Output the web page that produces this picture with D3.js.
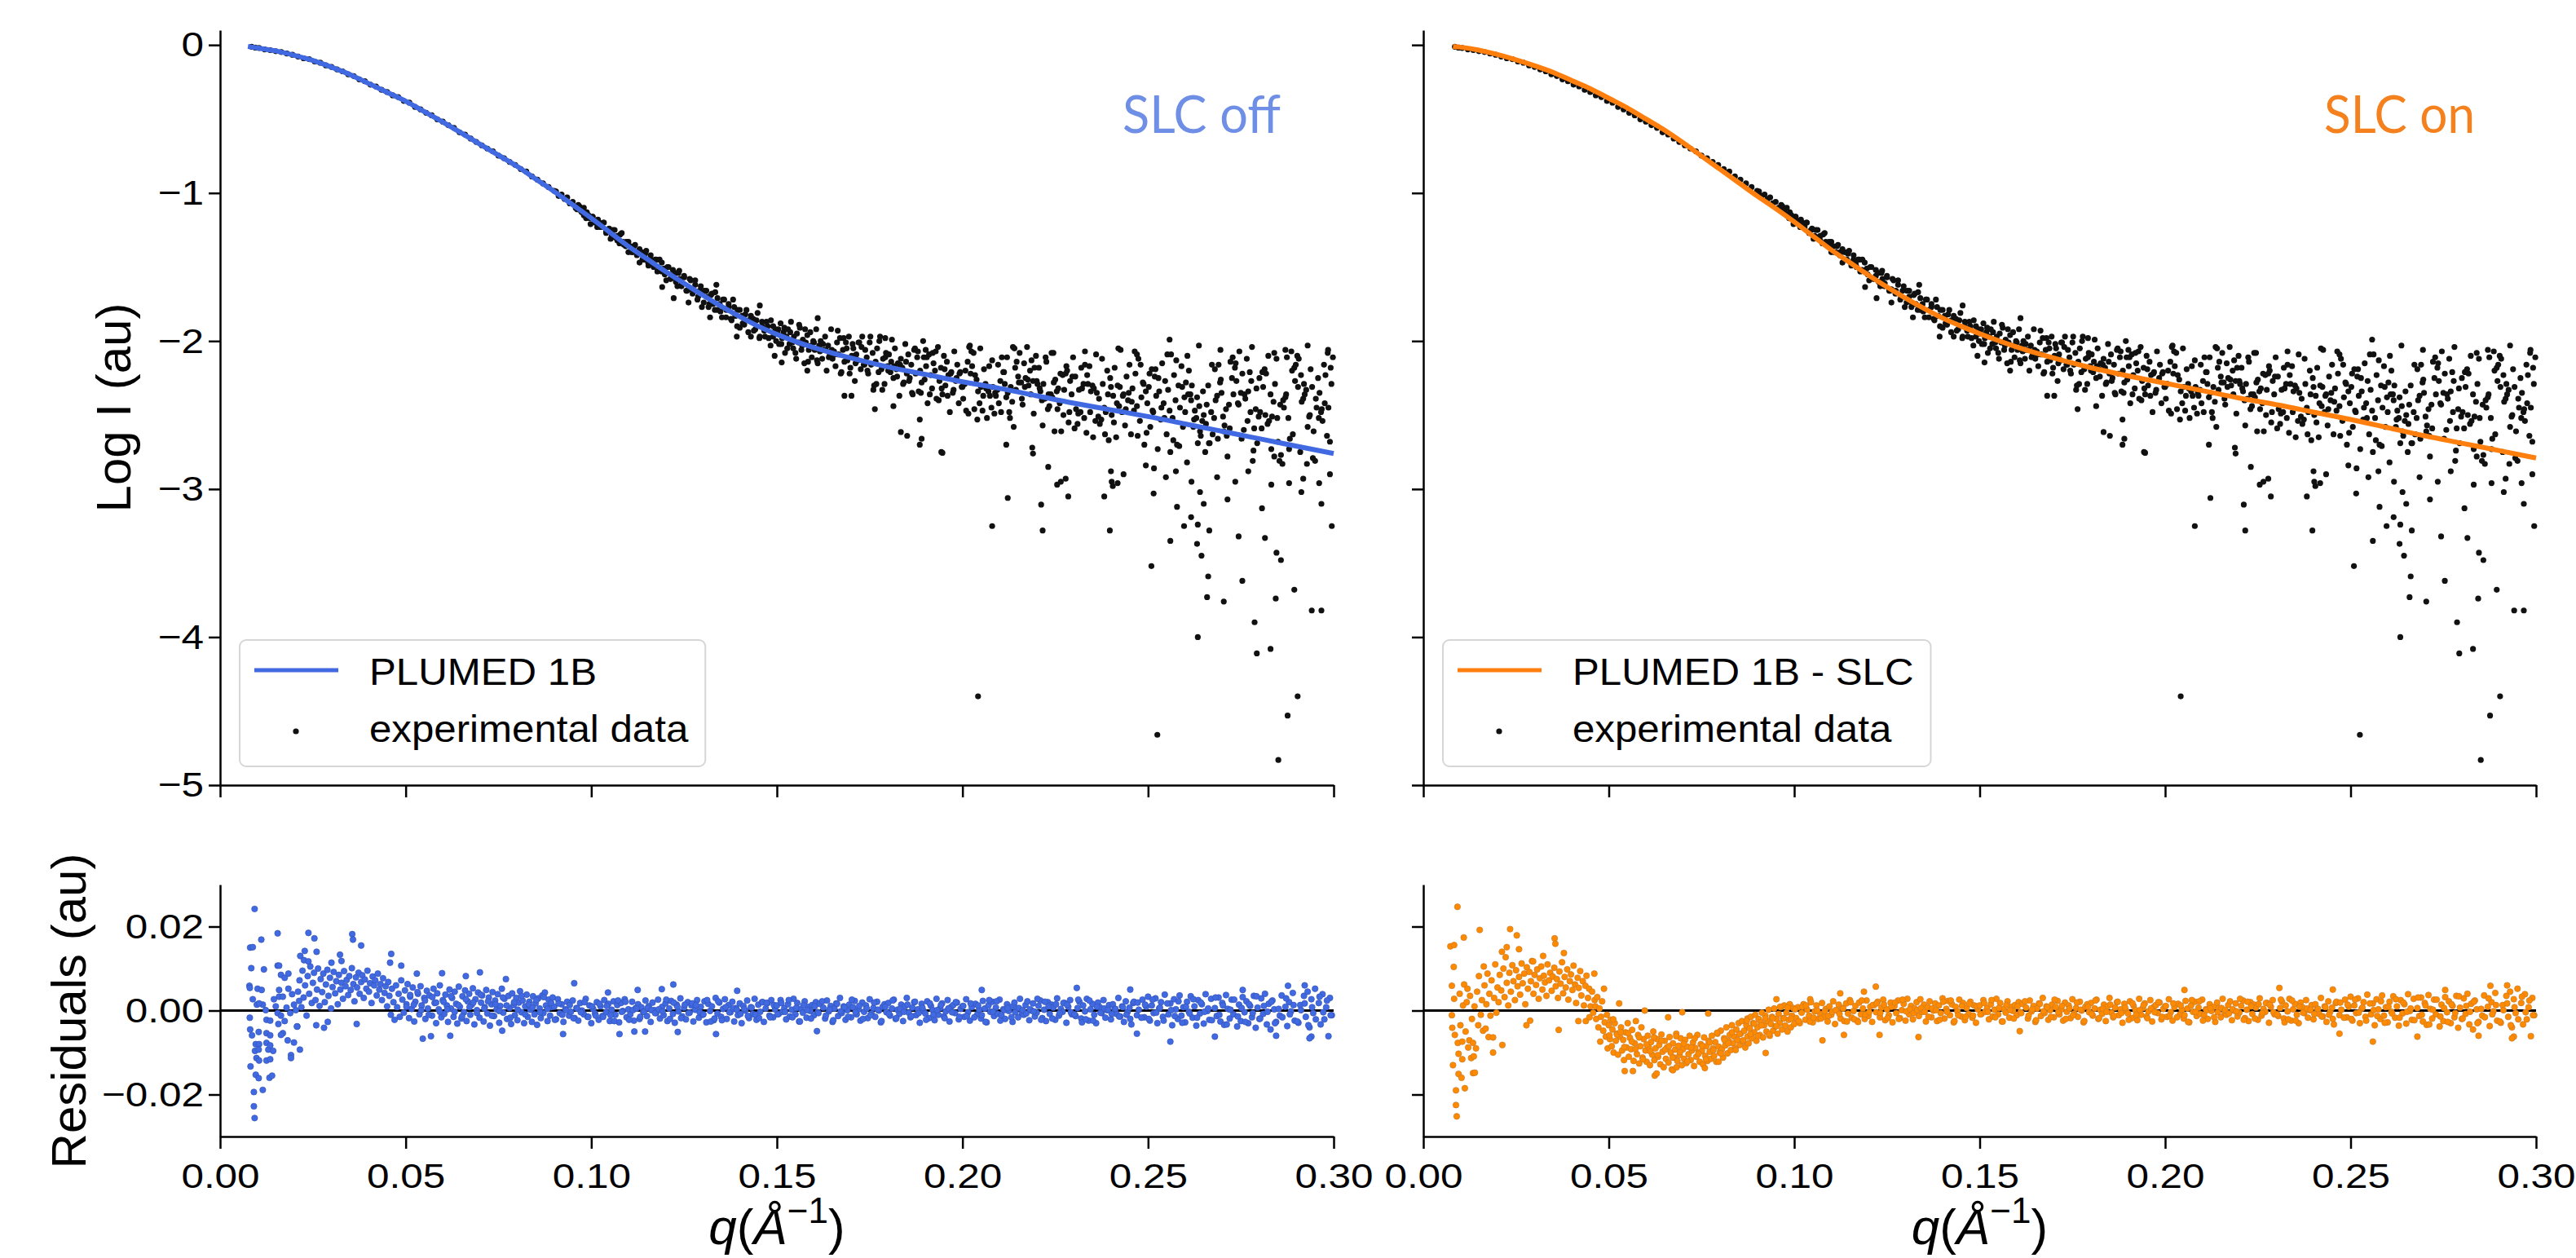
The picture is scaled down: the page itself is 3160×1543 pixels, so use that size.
<!DOCTYPE html>
<html>
<head>
<meta charset="utf-8">
<script src="https://cdn.jsdelivr.net/npm/d3@7"></script>
<style>
body { margin: 0; background: #fff; }
</style>
</head>
<body>
<div id="chart"></div>
<script>
// tick values
const qTicks = [0, 0.05, 0.10, 0.15, 0.20, 0.25, 0.30];
const logTicks = [0, -1, -2, -3, -4, -5];
const resTicks = [-0.02, 0, 0.02];

// fitted curves [q, log I]
const fitOff = [[.0075,-.01],[.01,-.02],[.015,-.04],[.02,-.07],[.025,-.105],[.03,-.15],[.035,-.2],[.04,-.26],[.045,-.32],[.05,-.38],[.055,-.45],[.06,-.52],[.065,-.595],[.07,-.67],[.075,-.745],[.08,-.82],[.085,-.905],[.09,-.99],[.095,-1.08],[.10,-1.17],[.105,-1.265],[.11,-1.36],[.115,-1.445],[.12,-1.53],[.125,-1.61],[.13,-1.69],[.135,-1.765],[.14,-1.835],[.145,-1.9],[.15,-1.955],[.16,-2.045],[.17,-2.115],[.18,-2.175],[.19,-2.225],[.20,-2.275],[.21,-2.32],[.22,-2.37],[.23,-2.42],[.24,-2.465],[.25,-2.51],[.26,-2.56],[.27,-2.61],[.28,-2.66],[.29,-2.71],[.30,-2.76]];
const fitOn = [[.008,-.01],[.01,-.015],[.015,-.035],[.02,-.065],[.025,-.1],[.03,-.14],[.035,-.185],[.04,-.24],[.045,-.295],[.05,-.36],[.055,-.425],[.06,-.5],[.065,-.575],[.07,-.66],[.075,-.75],[.08,-.84],[.085,-.93],[.09,-1.02],[.095,-1.105],[.10,-1.195],[.105,-1.29],[.11,-1.385],[.115,-1.47],[.12,-1.555],[.125,-1.635],[.13,-1.71],[.135,-1.78],[.14,-1.845],[.145,-1.9],[.15,-1.95],[.16,-2.04],[.17,-2.115],[.18,-2.18],[.19,-2.235],[.20,-2.285],[.21,-2.335],[.22,-2.385],[.23,-2.43],[.24,-2.48],[.25,-2.53],[.26,-2.585],[.27,-2.64],[.28,-2.69],[.29,-2.74],[.30,-2.79]];

// experimental data [q, log I]
const expNear = [[.0085,-.012],[.0095,-.018],[.0105,-.02],[.012,-.03],[.0135,-.035],[.015,-.042],[.0165,-.048],[.018,-.058],[.0195,-.066],[.021,-.078],[.0225,-.09],[.024,-.096],[.0255,-.112],[.027,-.12],[.0285,-.138],[.030,-.148],[.0315,-.165],[.033,-.178],[.0345,-.198],[.036,-.21],[.0375,-.232],[.039,-.245],[.0405,-.268],[.042,-.28],[.0435,-.303],[.045,-.318],[.0465,-.34],[.048,-.352],[.0495,-.378],[.051,-.39],[.0525,-.418],[.054,-.435],[.0555,-.458],[.057,-.475],[.0585,-.502],[.060,-.518],[.0615,-.542],[.063,-.56],[.0645,-.59],[.066,-.605],[.0675,-.632],[.069,-.655],[.0705,-.678],[.072,-.7],[.0735,-.718],[.075,-.748],[.0765,-.765],[.078,-.79],[.0795,-.81],[.081,-.838],[.0825,-.855],[.084,-.888],[.0855,-.91],[.087,-.935],[.0885,-.96],[.090,-.985],
[.0905,-.99],[.0912,-1.02],[.092,-1.01],[.0928,-1.04],[.0935,-1.03],[.0942,-1.07],[.095,-1.06],[.0958,-1.1],[.0965,-1.08],[.0972,-1.12],[.098,-1.15],[.0988,-1.13],[.0995,-1.17],[.1003,-1.16],[.101,-1.2],[.1018,-1.18],[.1025,-1.23],[.1033,-1.2],[.104,-1.26],[.1048,-1.24],[.1055,-1.29],[.1063,-1.25],[.107,-1.32],[.1078,-1.28],[.1085,-1.33],[.1093,-1.36],[.11,-1.33],[.1108,-1.4],[.1115,-1.36],[.1123,-1.42],[.113,-1.38],[.1138,-1.45],[.1145,-1.41],[.1153,-1.47],[.116,-1.42],[.1168,-1.5],[.1175,-1.45],[.1183,-1.52],[.119,-1.47],[.1191,-1.635],[.1198,-1.55],[.1205,-1.5],[.1213,-1.58],[.122,-1.52],[.1222,-1.71],[.1228,-1.6],[.1235,-1.54],[.1237,-1.525],[.1243,-1.63],[.125,-1.57],[.1258,-1.66],[.1262,-1.74],[.1265,-1.58],[.1273,-1.68],[.128,-1.62],[.1288,-1.7],[.1295,-1.63],[.1303,-1.74],[.131,-1.66],[.1318,-1.75],[.132,-1.84],[.1325,-1.68],[.1333,-1.79],[.1337,-1.62],[.134,-1.71],[.1348,-1.8],[.1355,-1.72],[.1363,-1.84],[.137,-1.75],[.1378,-1.86],[.1385,-1.77],[.1392,-1.97],[.1393,-1.9],[.14,-1.79],[.1408,-1.88],[.1415,-1.82],[.1423,-1.94],[.143,-1.83],[.1438,-1.93],[.1445,-1.86],[.1454,-1.76],[.1453,-1.98],[.146,-1.87],[.1468,-1.97],[.1475,-1.9],[.1483,-2.03],[.149,-1.9],[.1494,-2.1],[.1498,-2.0]];

const expTail = [
[.1502,-1.95],[.1506,-2.02],[.1510,-1.88],[.1514,-1.98],[.1518,-1.94],[.1522,-2.08],[.1526,-1.97],[.1530,-1.92],[.1534,-2.02],[.1538,-1.87],[.1542,-2.01],[.1546,-1.97],[.1550,-2.08],[.1554,-1.95],[.1558,-2.01],[.1562,-1.91],[.1566,-2.06],[.1570,-1.99],[.1574,-2.15],[.1578,-2.01],[.1582,-1.96],[.1586,-2.06],[.1590,-1.94],[.1594,-2.11],[.1598,-2.00],
[.1602,-2.06],[.1606,-1.92],[.1610,-2.15],[.1614,-2.03],[.1618,-2.00],[.1622,-2.12],[.1626,-2.06],[.1630,-1.97],[.1634,-2.20],[.1638,-2.03],[.1642,-2.10],[.1646,-1.92],[.1650,-2.12],[.1654,-2.07],[.1658,-2.17],[.1662,-2.01],[.1666,-2.09],[.1670,-1.98],[.1674,-2.21],[.1678,-2.06],[.1682,-2.14],[.1686,-2.01],[.1690,-2.13],[.1694,-1.97],[.1698,-2.18],
[.1702,-2.10],[.1706,-2.05],[.1710,-2.27],[.1714,-2.09],[.1718,-2.13],[.1722,-2.01],[.1726,-2.19],[.1730,-1.97],[.1734,-2.16],[.1738,-2.06],[.1742,-2.11],[.1746,-2.22],[.1750,-2.01],[.1754,-2.16],[.1758,-2.08],[.1762,-2.30],[.1766,-2.14],[.1770,-2.05],[.1774,-2.21],[.1778,-1.97],[.1782,-2.19],[.1786,-2.12],[.1790,-2.29],[.1794,-2.08],[.1798,-2.17],
[.1802,-2.09],[.1806,-2.21],[.1810,-1.99],[.1814,-2.25],[.1818,-2.05],[.1822,-2.19],[.1826,-2.15],[.1830,-2.37],[.1834,-2.12],[.1838,-2.18],[.1842,-2.28],[.1846,-2.02],[.1850,-2.22],[.1854,-2.09],[.1858,-2.25],[.1862,-2.16],[.1866,-2.36],[.1870,-2.06],[.1874,-2.22],[.1878,-2.11],[.1882,-2.34],[.1886,-2.20],[.1890,-2.28],[.1894,-2.00],[.1898,-2.26],
[.1902,-2.17],[.1906,-2.42],[.1910,-2.09],[.1914,-2.23],[.1918,-2.32],[.1922,-2.15],[.1926,-2.20],[.1930,-2.39],[.1934,-2.04],[.1938,-2.27],[.1942,-2.18],[.1946,-2.36],[.1950,-2.10],[.1954,-2.30],[.1958,-2.14],[.1962,-2.23],[.1966,-2.48],[.1970,-2.21],[.1974,-2.35],[.1978,-2.07],[.1982,-2.27],[.1986,-2.16],[.1990,-2.42],[.1994,-2.21],[.1998,-2.31],
[.2002,-2.39],[.2006,-2.29],[.2010,-2.47],[.2014,-2.14],[.2018,-2.04],[.2022,-2.22],[.2026,-2.17],[.2030,-2.08],[.2034,-2.23],[.2038,-2.26],[.2042,-2.34],[.2046,-2.42],[.2050,-2.31],[.2054,-2.47],[.2058,-2.19],[.2062,-2.29],[.2066,-2.52],[.2070,-2.34],[.2074,-2.37],[.2078,-2.45],[.2082,-2.31],[.2086,-2.49],[.2090,-2.37],[.2094,-2.33],[.2098,-2.42],
[.2102,-2.27],[.2106,-2.11],[.2110,-2.21],[.2114,-2.29],[.2118,-2.38],[.2122,-2.35],[.2126,-2.48],[.2130,-2.31],[.2134,-2.41],[.2138,-2.58],[.2142,-2.18],[.2146,-2.14],[.2150,-2.24],[.2154,-2.08],[.2158,-2.28],[.2162,-2.43],[.2166,-2.15],[.2170,-2.25],[.2174,-2.04],[.2178,-2.30],[.2182,-2.20],[.2186,-2.13],[.2190,-2.27],[.2194,-2.18],[.2198,-2.10],
[.2202,-2.29],[.2206,-2.18],[.2210,-2.34],[.2214,-2.40],[.2218,-2.29],[.2222,-2.39],[.2226,-2.14],[.2230,-2.46],[.2234,-2.44],[.2238,-2.36],[.2242,-2.38],[.2246,-2.28],[.2250,-2.26],[.2254,-2.34],[.2258,-2.32],[.2262,-2.42],[.2266,-2.61],[.2270,-2.23],[.2274,-2.33],[.2278,-2.22],[.2282,-2.20],[.2286,-2.55],[.2290,-2.27],[.2294,-2.36],[.2298,-2.11],
[.2302,-2.59],[.2306,-2.46],[.2310,-2.56],[.2314,-2.33],[.2318,-2.48],[.2322,-2.32],[.2326,-2.29],[.2330,-2.16],[.2334,-2.62],[.2338,-2.29],[.2342,-2.17],[.2346,-2.34],[.2350,-2.30],[.2354,-2.32],[.2358,-2.54],[.2362,-2.35],[.2366,-2.51],[.2370,-2.56],[.2374,-2.53],[.2378,-2.29],[.2382,-2.45],[.2386,-2.48],[.2390,-2.20],[.2394,-2.67],[.2398,-2.25],
[.2402,-2.50],[.2406,-2.37],[.2410,-2.18],[.2414,-2.65],[.2418,-2.30],[.2422,-2.44],[.2426,-2.06],[.2430,-2.48],[.2434,-2.36],[.2438,-2.57],[.2442,-2.24],[.2446,-2.40],[.2450,-2.16],[.2454,-2.63],[.2458,-2.32],[.2462,-2.47],[.2466,-2.22],[.2470,-2.44],[.2474,-2.12],[.2478,-2.54],[.2482,-2.38],[.2486,-2.28],[.2490,-2.70],[.2494,-2.34],[.2498,-2.42],
[.2502,-2.31],[.2506,-2.58],[.2510,-2.19],[.2514,-2.48],[.2518,-2.24],[.2522,-2.37],[.2526,-2.73],[.2530,-2.34],[.2534,-2.53],[.2538,-2.15],[.2542,-2.42],[.2546,-2.27],[.2550,-2.63],[.2554,-2.33],[.2558,-2.47],[.2562,-2.09],[.2566,-2.52],[.2570,-2.23],[.2574,-2.40],[.2578,-2.70],[.2582,-2.30],[.2586,-2.45],[.2590,-2.17],[.2594,-2.58],[.2598,-2.38],
[.2602,-2.28],[.2606,-2.10],[.2610,-2.20],[.2614,-2.36],[.2618,-2.30],[.2622,-2.58],[.2626,-2.47],[.2630,-2.52],[.2634,-2.69],[.2638,-2.44],[.2642,-2.64],[.2646,-2.54],[.2650,-2.50],[.2654,-2.75],[.2658,-2.43],[.2662,-2.30],[.2666,-2.69],[.2670,-2.48],[.2674,-2.63],[.2678,-2.52],[.2682,-2.40],[.2686,-2.37],[.2690,-2.16],[.2694,-2.28],[.2698,-2.35],
[.2702,-2.51],[.2706,-2.57],[.2710,-2.46],[.2714,-2.78],[.2718,-2.43],[.2722,-2.14],[.2726,-2.25],[.2730,-2.36],[.2734,-2.18],[.2738,-2.27],[.2742,-2.42],[.2746,-2.07],[.2750,-2.35],[.2754,-2.22],[.2758,-2.60],[.2762,-2.39],[.2766,-2.12],[.2770,-2.34],[.2774,-2.21],[.2778,-2.27],[.2782,-2.81],[.2786,-2.59],[.2790,-2.46],[.2794,-2.69],[.2798,-2.51],
[.2802,-2.48],[.2806,-2.59],[.2810,-2.31],[.2814,-2.19],[.2818,-2.22],[.2822,-2.56],[.2826,-2.54],[.2830,-2.36],[.2834,-2.51],[.2838,-2.41],[.2842,-2.29],[.2846,-2.12],[.2850,-2.68],[.2854,-2.81],[.2858,-2.77],[.2862,-2.83],[.2866,-2.45],[.2870,-2.38],[.2874,-2.11],[.2878,-2.52],[.2882,-2.66],[.2886,-2.07],[.2890,-2.63],[.2894,-2.18],[.2898,-2.16],
[.2902,-2.10],[.2906,-2.12],[.2910,-2.75],[.2914,-2.41],[.2918,-2.39],[.2922,-2.36],[.2926,-2.33],[.2930,-2.58],[.2934,-2.51],[.2938,-2.19],[.2942,-2.31],[.2946,-2.61],[.2950,-2.81],[.2954,-2.45],[.2958,-2.25],[.2962,-2.35],[.2966,-2.48],[.2970,-2.54],[.2974,-2.16],[.2978,-2.23],[.2982,-2.64],[.2986,-2.45],[.2990,-2.68],[.2994,-2.29],[.2998,-2.11]];

// second pass over the same range (the cloud is denser than one row)
const expExtra = [[.0962,-1.11],[.0968,-1.09],[.0974,-1.13],[.098,-1.10],[.0986,-1.17],[.0992,-1.15],[.0998,-1.21],[.1004,-1.16],[.101,-1.19],[.1016,-1.23],[.1022,-1.20],[.1028,-1.23],[.1034,-1.20],[.104,-1.27],[.1046,-1.25],[.1052,-1.31],[.1058,-1.25],[.1064,-1.30],[.107,-1.29],[.1076,-1.34],[.1082,-1.27],[.1088,-1.35],[.1094,-1.33],[.11,-1.40],[.1106,-1.36],[.1112,-1.40],[.1118,-1.35],[.1124,-1.40],[.113,-1.47],[.1136,-1.40],[.1142,-1.45],[.1148,-1.39],[.1154,-1.49],[.116,-1.45],[.1166,-1.48],[.1172,-1.45],[.1178,-1.53],[.1184,-1.45],[.119,-1.53],[.1196,-1.51],[.1202,-1.59],[.1208,-1.50],[.1214,-1.58],[.122,-1.56],[.1226,-1.54],[.1232,-1.63],[.1238,-1.58],[.1244,-1.61],[.125,-1.56],[.1256,-1.66],[.1262,-1.65],[.1268,-1.59],[.1274,-1.66],[.128,-1.59],[.1286,-1.72],[.1292,-1.66],[.1298,-1.77],[.1304,-1.66],[.131,-1.70],[.1316,-1.77],[.1322,-1.69],[.1328,-1.75],[.1334,-1.67],[.134,-1.79],[.1346,-1.75],[.1352,-1.84],[.1358,-1.72],[.1364,-1.79],[.137,-1.77],[.1376,-1.85],[.1382,-1.72],[.1388,-1.83],[.1394,-1.79],[.14,-1.91],[.1406,-1.83],[.1412,-1.89],[.1418,-1.79],[.1424,-1.86],[.143,-1.97],[.1436,-1.85],[.1442,-1.92],[.1448,-1.81],[.1454,-1.97],[.146,-1.90],[.1466,-1.93],[.1472,-1.87],[.1478,-1.98],[.1484,-1.86],[.149,-1.97],[.1496,-1.92],
[.1504,-1.92],[.1512,-2.02],[.1520,-1.91],[.1528,-2.05],[.1536,-1.94],[.1544,-2.05],[.1552,-2.12],[.1560,-1.89],[.1568,-2.03],[.1576,-1.92],[.1584,-2.14],[.1592,-2.03],[.1600,-2.01],[.1608,-2.13],[.1616,-2.07],[.1624,-2.02],[.1632,-2.06],[.1640,-2.11],[.1648,-2.06],[.1656,-2.09],[.1664,-1.93],[.1672,-2.22],[.1680,-1.98],[.1688,-2.05],[.1696,-2.22],[.1704,-2.02],[.1712,-2.15],[.1720,-2.01],[.1728,-2.04],[.1736,-2.16],[.1744,-2.20],[.1752,-1.97],[.1760,-2.33],[.1768,-2.29],[.1776,-2.00],[.1784,-2.33],[.1792,-2.11],[.1800,-2.20],[.1808,-2.14],[.1816,-2.17],[.1824,-2.24],[.1832,-2.16],[.1840,-2.29],[.1848,-2.14],[.1856,-2.27],[.1864,-2.35],[.1872,-2.05],[.1880,-2.07],[.1888,-2.35],[.1896,-2.11],
[.1904,-2.11],[.1912,-2.36],[.1920,-2.08],[.1928,-2.07],[.1936,-2.40],[.1944,-2.32],[.1952,-2.19],[.1960,-2.37],[.1968,-2.22],[.1976,-2.33],[.1984,-2.25],[.1992,-2.22],[.2000,-2.31],[.2008,-2.20],[.2016,-2.49],[.2024,-2.07],[.2032,-2.46],[.2040,-2.53],[.2048,-2.05],[.2056,-2.37],[.2064,-2.32],[.2072,-2.17],[.2080,-2.13],[.2088,-2.35],[.2096,-2.16],[.2104,-2.48],[.2112,-2.21],[.2120,-2.11],[.2128,-2.52],[.2136,-2.04],[.2144,-2.33],[.2152,-2.28],[.2160,-2.39],[.2168,-2.31],[.2176,-2.26],[.2184,-2.36],[.2192,-2.49],[.2200,-2.27],[.2208,-2.32],[.2216,-2.57],[.2224,-2.11],[.2232,-2.36],[.2240,-2.08],[.2248,-2.61],[.2256,-2.46],[.2264,-2.22],[.2272,-2.50],[.2280,-2.17],[.2288,-2.48],[.2296,-2.24],
[.2304,-2.24],[.2312,-2.49],[.2320,-2.18],[.2328,-2.52],[.2336,-2.23],[.2344,-2.48],[.2352,-2.65],[.2360,-2.09],[.2368,-2.39],[.2376,-2.12],[.2384,-2.63],[.2392,-2.36],[.2400,-2.31],[.2408,-2.55],[.2416,-2.42],[.2424,-2.31],[.2432,-2.37],[.2440,-2.46],[.2448,-2.35],[.2456,-2.41],[.2464,-2.07],[.2472,-2.64],[.2480,-2.16],[.2488,-2.29],[.2496,-2.62],[.2504,-2.22],[.2512,-2.47],[.2520,-2.19],[.2528,-2.25],[.2536,-2.45],[.2544,-2.52],[.2552,-2.09],[.2560,-2.75],[.2568,-2.67],[.2576,-2.13],[.2584,-2.71],[.2592,-2.31],[.2600,-2.48],[.2608,-2.36],[.2616,-2.40],[.2624,-2.53],[.2632,-2.38],[.2640,-2.61],[.2648,-2.34],[.2656,-2.56],[.2664,-2.69],[.2672,-2.16],[.2680,-2.19],[.2688,-2.66],[.2696,-2.26],
[.2704,-2.61],[.2712,-2.64],[.2720,-2.59],[.2728,-2.11],[.2736,-2.15],[.2744,-2.43],[.2752,-2.66],[.2760,-2.36],[.2768,-2.54],[.2776,-2.48],[.2784,-2.74],[.2792,-2.32],[.2800,-2.25],[.2808,-2.21],[.2816,-2.50],[.2824,-2.10],[.2832,-2.73],[.2840,-2.78],[.2848,-2.52],[.2856,-2.43],[.2864,-2.40],[.2872,-2.36],[.2880,-2.73],[.2888,-2.20],[.2896,-2.27],[.2904,-2.31],[.2912,-2.23],[.2920,-2.29],[.2928,-2.83],[.2936,-2.50],[.2944,-2.79],[.2952,-2.39],[.2960,-2.52],[.2968,-2.46],[.2976,-2.42],[.2984,-2.08],[.2992,-2.18]];

const expOutliers = [[.1513,-2.145],[.1582,-2.20],[.1610,-1.845],[.1682,-2.37],[.1701,-2.37],[.1764,-2.46],[.1792,-1.98],[.1814,-2.44],[.1834,-2.615],[.1851,-2.64],[.1885,-2.53],[.1885,-2.70],[.1890,-2.66],[.1901,-2.06],[.1943,-2.75],[.1946,-2.755],
[.2020,-2.03],[.2042,-4.40],[.2080,-3.25],[.2118,-2.70],[.2122,-3.06],[.2140,-2.05],[.2188,-2.72],[.2190,-2.76],[.2212,-3.105],[.2216,-3.28],[.2231,-2.85],[.2245,-2.08],[.2255,-2.97],[.2265,-2.95],[.2278,-2.93],[.2285,-3.05],[.2330,-2.07],[.2382,-3.05],[.2397,-3.28],[.2400,-2.88],[.2402,-2.95],[.2405,-2.98],[.2418,-2.96],[.2420,-2.05],[.2434,-2.90],[.2470,-2.09],[.2494,-2.84],[.2509,-3.52],[.2515,-3.03],[.2516,-2.86],[.2525,-4.66],[.2548,-2.92],[.2558,-1.99],[.2560,-3.35],[.2575,-2.88],[.2578,-3.12],[.2597,-3.25],[.2605,-2.82],[.2616,-3.19],[.2617,-2.95],[.2632,-3.37],[.2634,-3.24],[.2634,-4.00],[.2637,-2.03],[.2640,-3.02],[.2644,-3.45],[.2650,-3.10],[.2659,-3.73],[.2662,-3.59],[.2665,-3.28],[.2686,-2.92],[.2695,-2.06],[.2704,-3.76],[.2714,-3.07],[.2735,-2.95],[.2744,-3.32],[.2754,-3.62],[.2770,-2.88],[.2780,-2.04],[.2787,-3.90],[.2793,-4.11],[.2807,-3.13],[.2815,-3.33],[.2830,-4.08],[.2832,-2.97],[.2840,-2.08],[.2844,-3.74],[.2846,-3.43],[.2851,-4.83],[.2858,-3.48],[.2870,-2.06],[.2876,-4.53],[.2880,-2.96],[.2894,-3.68],[.2903,-4.40],[.2913,-3.02],[.2918,-2.93],[.2930,-2.03],[.2941,-3.82],[.2961,-2.96],[.2967,-3.82],[.2967,-3.10],[.2985,-2.06],[.2990,-2.90],[.2995,-3.25]];

// residuals, SLC off, q < 0.15
const resOffHead = [[.0079,.0059],[.0080,.0054],[.0081,.0150],[.0088,.0151],[.0084,.0101],[.0088,.0027],[.0080,-.0017],[.0081,-.0045],[.0086,-.0059],[.0082,-.0133],[.0093,.0242],[.0091,-.0194],[.0091,-.0228],[.0093,-.0256],[.0096,-.0080],[.0094,-.0096],[.0098,-.0113],[.0096,-.0153],[.0104,-.0161],[.0101,.0052],[.0099,.0014],[.0104,-.0051],[.0105,-.0080],[.0104,-.0093],[.0105,-.0119],[.0111,.0169],[.0112,.0049],[.0115,-.0189],[.0118,.0098],[.0125,-.0054],[.0125,-.0077],[.0130,-.0093],[.0125,-.0119],[.0133,-.0160],[.0140,-.0155],[.0135,-.0059],[.0135,-.0083],[.0143,-.0096],[.0135,-.0116],[.0125,-.0022],[.0135,-.0024],[.0123,.0001],[.0115,.0014],[.0105,.0017],[.0155,.0184],[.0155,.0107],[.0159,.0107],[.0150,.0010],[.0155,-.0006],[.0164,-.0012],[.0179,.0007],[.0189,-.0006],[.0174,-.0025],[.0157,-.0032],[.0169,-.0054],[.0164,-.0058],[.0182,-.0071],[.0199,-.0076],[.0191,-.0106],[.0191,-.0113],[.0215,-.0093],[.0208,-.0038],[.0164,.0085],[.0174,.0078],[.0184,.0088],[.0159,.0049],[.0159,.0033],[.0169,.0033],[.0145,.0027],[.0184,.0052],[.0194,.0039],[.0199,.0014],[.0204,.0001],[.0213,.0023],
[.0238,.0185],[.0254,.0172],[.0228,.0142],[.0260,.0140],[.0216,.0130],[.0226,.0120],[.0238,.0117],[.0300,.0114],[.0323,.0133],[.0327,.0118],[.0356,.0182],[.0358,.0169],[.0380,.0155],[.0461,.0135],[.0458,.0114],[.0488,.0107],[.0259,-.0035],[.0290,-.0027],[.0280,-.0041],[.0368,-.0032],[.0207,-.0038],
[.0210,.0045],[.0214,.0072],[.0219,.0008],[.0222,.0095],[.0225,.0031],[.0229,.0060],[.0233,-.0012],[.0236,.0082],[.0240,.0040],[.0243,.0105],[.0247,.0018],[.0250,.0066],[.0253,.0090],[.0257,.0025],[.0261,.0050],[.0264,.0100],[.0268,.0011],[.0271,.0075],[.0275,.0044],[.0278,.0088],[.0282,.0020],[.0285,.0062],[.0289,.0097],[.0292,.0035],[.0296,.0078],[.0299,.0005],[.0303,.0056],[.0306,.0092],[.0310,.0041],[.0313,.0070],[.0317,.0015],[.0320,.0085],[.0324,.0050],[.0327,.0066],[.0331,.0028],[.0334,.0094],[.0338,.0058],[.0341,.0073],[.0345,.0037],[.0348,.0082],[.0352,.0049],[.0355,.0101],[.0359,.0063],[.0362,.0022],[.0366,.0079],[.0369,.0055],[.0373,.0090],[.0376,.0040],[.0380,.0068],[.0383,.0084],[.0387,.0030],[.0390,.0074],[.0394,.0052],[.0397,.0095],[.0401,.0045],[.0404,.0065],[.0408,.0018],[.0411,.0081],[.0415,.0060],[.0418,.0072],[.0422,.0036],[.0425,.0088],[.0429,.0050],[.0432,.0063],[.0436,.0025],[.0439,.0077],[.0443,.0042],[.0446,.0058],[.0450,.0010],[.0453,.0068],
[.0456,.0035],[.0460,-.0010],[.0463,.0052],[.0467,.0020],[.0470,-.0022],[.0474,.0060],[.0477,.0008],[.0481,.0040],[.0484,-.0015],[.0488,.0072],[.0491,.0026],[.0495,-.0005],[.0498,.0048],[.0502,.0015],[.0505,.0063],[.0509,-.0018],[.0512,.0033],[.0516,.0004],[.0519,.0055],[.0523,-.0026],[.0526,.0021],[.0530,.0088],[.0533,.0040],[.0537,-.0009],[.0540,.0058],[.0543,.0012],[.0546,-.0067],[.0550,.0030],[.0553,-.0020],[.0557,.0047],[.0560,.0005],[.0564,.0036],[.0568,-.0061],[.0571,-.0012],[.0575,.0052],[.0578,.0018],[.0582,-.0030],[.0585,.0041],[.0589,.0003],[.0592,.0060],[.0596,-.0016],[.0598,.0089],[.0600,.0025],
[.0604,-.0008],[.0607,.0038],[.0611,.0012],[.0614,-.0027],[.0618,.0050],[.0620,-.0060],[.0622,.0005],[.0625,.0030],[.0629,-.0015],[.0632,.0045],[.0636,.0016],[.0639,-.0031],[.0643,.0057],[.0646,.0009],[.0650,-.0019],[.0653,.0034],[.0657,-.0004],[.0660,.0048],[.0662,.0082],[.0664,-.0025],[.0667,.0022],[.0671,.0040],[.0674,-.0010],[.0678,.0014],[.0681,.0053],[.0685,-.0033],[.0688,.0027],[.0692,.0001],[.0695,.0043],[.0699,-.0017],[.0700,.0091],[.0703,.0019],[.0706,.0036],[.0710,-.0026],[.0713,.0008],[.0717,.0049],[.0720,-.0007],[.0724,.0031],[.0727,-.0036],[.0731,.0015],[.0734,.0044],[.0738,-.0013],[.0741,.0024],[.0745,.0003],[.0748,.0039],[.0752,-.0029],[.0755,.0011],[.0759,.0052],[.0760,-.0048],[.0763,-.0005],[.0766,.0028],[.0770,.0075],[.0773,-.0020],[.0777,.0035],[.0780,.0006],[.0784,-.0032],[.0787,.0041],[.0791,.0013],[.0794,-.0011],[.0798,.0030],[.0801,-.0023],[.0805,.0019],[.0808,.0046],[.0812,-.0004],[.0815,.0024],[.0819,-.0030],[.0822,.0010],[.0826,.0038],[.0829,-.0015],[.0833,.0021],[.0836,.0002],[.0840,-.0027],[.0843,.0034],[.0847,-.0009],[.0850,.0017],[.0854,-.0034],[.0857,.0029],[.0861,.0005],[.0864,-.0018],[.0868,.0036],[.0871,-.0006],[.0875,.0043],[.0878,.0012],[.0882,-.0025],[.0885,.0026],[.0889,-.0012],[.0892,.0008],[.0896,.0031],
[.0900,.0009],[.0905,-.0021],[.0910,.0027],[.0915,-.0006],[.0920,.0015],[.0924,-.0056],[.0925,-.0027],[.0930,.0003],[.0935,.0021],[.0940,-.0012],[.0945,-.0003],[.0950,.0024],[.0954,.0065],[.0955,-.0018],[.0960,.0006],[.0965,-.0024],[.0970,.0018],[.0975,.0000],[.0980,-.0009],[.0985,.0028],[.0990,-.0015],[.0995,.0012],[.1000,-.0030],[.1005,.0004],[.1010,-.0007],[.1015,.0020],[.1020,-.0022],[.1025,.0010],[.1030,-.0013],[.1035,.0025],[.1040,-.0004],[.1045,.0043],[.1046,.0016],[.1050,-.0025],[.1055,.0002],[.1060,.0022],[.1065,-.0010],[.1070,.0013],[.1075,-.0028],[.1076,-.0056],[.1080,.0018],[.1085,-.0001],[.1090,.0027],[.1095,-.0016],[.1100,.0003],[.1105,-.0009],[.1110,.0021],[.1115,-.0024],[.1116,-.0050],[.1120,.0006],[.1125,.0049],[.1126,.0015],[.1130,-.0020],[.1135,.0008],[.1140,-.0003],[.1145,-.0050],[.1146,.0024],[.1150,-.0013],[.1155,.0011],[.1160,-.0027],[.1165,.0019],[.1170,.0001],[.1175,-.0006],[.1180,.0026],[.1185,-.0019],[.1190,.0051],[.1191,.0009],[.1195,-.0011],[.1200,.0017],[.1205,-.0025],[.1210,.0005],[.1215,.0023],[.1220,-.0008],[.1221,.0062],[.1225,-.0029],[.1230,.0014],[.1233,-.0051],[.1235,-.0002],[.1240,.0029],[.1245,-.0014],[.1250,.0007],[.1255,-.0021],[.1260,.0020],[.1265,-.0005],[.1270,.0012],[.1275,-.0026],[.1280,.0002],[.1285,.0025],[.1290,-.0017],[.1295,.0009],[.1300,-.0010],[.1305,.0022],[.1310,-.0028],[.1315,.0016],[.1320,-.0001],[.1325,.0010],[.1330,-.0023],[.1335,.0030],[.1336,-.0056],[.1340,-.0007],[.1345,.0019],[.1350,-.0015],[.1355,.0004],[.1360,.0027],[.1365,-.0020],[.1370,.0013],[.1375,-.0004],[.1380,.0021],[.1385,-.0026],[.1390,.0006],[.1393,.0047],[.1395,-.0011],[.1400,.0017],[.1405,-.0030],[.1410,.0011],[.1415,.0000],[.1420,.0024],[.1425,-.0018],[.1430,.0008],[.1435,-.0008],[.1440,.0028],[.1445,-.0022],[.1450,.0014],[.1455,-.0003],[.1460,.0020],[.1465,-.0027],[.1470,.0005],[.1475,.0018],[.1480,-.0012],[.1485,.0025],[.1490,-.0016],[.1495,.0003]];

const resOffExtra = [[.0502,.0009],[.0512,.0037],[.0522,.0014],[.0532,.0044],[.0542,.0001],[.0552,.0024],[.0562,-.0010],[.0572,.0032],[.0582,.0019],[.0592,-.0003],
[.0602,.0021],[.0612,.0003],[.0622,.0034],[.0632,-.0003],[.0642,.0013],[.0652,-.0014],[.0662,.0027],[.0672,.0008],[.0682,.0019],[.0692,-.0006],[.0702,.0038],[.0712,.0005],[.0722,.0022],[.0732,-.0012],[.0742,.0015],[.0752,-.0001],[.0762,.0031],[.0772,.0012],[.0782,-.0017],[.0792,.0020],[.0802,.0002],[.0812,.0035],[.0822,-.0009],[.0832,.0014],[.0842,.0007],[.0852,.0025],[.0862,-.0004],[.0872,.0032],[.0882,.0004],[.0892,.0018],
[.0902,-.0022],[.0912,.0017],[.0922,-.0010],[.0932,.0001],[.0942,.0013],[.0952,-.0018],[.0962,.0005],[.0972,-.0004],[.0982,.0020],[.0992,-.0015],
[.1002,.0010],[.1012,-.0012],[.1022,.0016],[.1032,-.0015],[.1042,.0011],[.1052,-.0011],[.1062,-.0025],[.1072,.0024],[.1082,-.0003],[.1092,.0021],[.1102,-.0022],[.1112,.0001],[.1122,.0005],[.1132,-.0015],[.1142,-.0003],[.1152,.0006],[.1162,.0001],[.1172,-.0006],[.1182,.0003],[.1192,-.0002],[.1202,.0026],[.1212,-.0020],[.1222,.0019],[.1232,.0009],[.1242,-.0018],[.1252,.0014],[.1262,-.0006],[.1272,.0017],[.1282,.0013],[.1292,-.0004],[.1302,-.0009],[.1312,.0025],[.1322,-.0026],[.1332,-.0019],[.1342,.0022],[.1352,-.0023],[.1362,.0008],[.1372,-.0004],[.1382,.0005],[.1392,.0002],[.1402,-.0008],[.1412,.0004],[.1422,-.0013],[.1432,.0007],[.1442,-.0010],[.1452,-.0018],[.1462,.0020],[.1472,.0018],[.1482,-.0016],[.1492,.0013]];

// residuals, SLC on, q < 0.15
const resOnHead = [[.0073,.0153],[.0077,.0059],[.0077,-.0011],[.0078,-.0041],[.0080,-.0130],[.0082,.0104],[.0083,.0156],[.0083,.0028],[.0085,-.0058],[.0088,-.0190],[.0088,-.0225],[.0090,-.0252],[.0092,.0247],[.0093,-.0077],[.0095,-.0103],[.0095,-.0151],[.0098,.0040],[.0100,-.0035],[.0103,-.0160],[.0105,-.0074],[.0105,-.0116],[.0107,.0012],[.0109,.0174],[.0110,.0062],[.0112,-.0185],[.0114,-.0050],[.0117,.0020],[.0119,.0052],[.0121,-.0088],[.0124,-.0071],[.0126,.0035],[.0129,-.0113],[.0131,-.0020],[.0134,-.0077],[.0134,-.0149],[.0136,-.0109],[.0138,.0010],[.0139,-.0148],[.0142,-.0090],[.0145,.0045],[.0148,-.0035],[.0150,.0082],[.0152,.0192],[.0155,-.0010],[.0158,.0025],[.0161,-.0048],[.0163,.0105],[.0165,.0060],[.0168,-.0043],[.0170,.0015],[.0173,.0088],[.0176,-.0063],[.0178,.0040],[.0181,-.0012],[.0184,.0072],[.0188,-.0100],[.0188,-.0064],[.0191,.0030],[.0194,.0110],[.0197,-.0005],[.0200,.0055],
[.0203,.0020],[.0206,.0085],[.0210,.0048],[.0213,-.0082],[.0212,.0140],[.0216,.0100],[.0219,.0032],[.0222,.0127],[.0225,.0151],[.0225,.0066],[.0229,.0012],[.0232,.0090],[.0234,.0194],[.0236,.0045],[.0240,.0108],[.0243,.0070],[.0247,.0025],[.0250,.0096],[.0252,.0179],[.0254,.0058],[.0258,.0146],[.0258,.0080],[.0261,.0038],[.0265,.0112],[.0268,.0065],[.0272,.0088],[.0275,.0015],[.0278,-.0035],[.0279,.0103],[.0282,.0052],[.0286,.0092],[.0288,-.0024],[.0290,.0070],[.0293,.0118],[.0296,.0117],[.0297,.0040],[.0300,.0085],[.0304,.0061],[.0307,.0098],[.0311,.0028],[.0314,.0077],[.0318,.0105],[.0321,.0050],[.0323,.0130],[.0325,.0083],[.0328,.0067],[.0332,.0035],[.0335,.0110],[.0339,.0072],[.0342,.0090],[.0346,.0047],[.0349,.0081],[.0353,.0102],[.0354,.0172],[.0356,.0159],[.0357,.0058],[.0360,.0075],[.0363,.0030],[.0365,-.0046],[.0367,.0093],[.0370,.0064],[.0374,.0115],[.0377,.0041],[.0379,.0137],[.0381,.0080],[.0384,.0055],[.0388,.0098],[.0391,.0026],[.0395,.0070],[.0398,.0086],[.0402,.0049],[.0405,.0107],[.0409,.0062],[.0412,.0018],[.0416,.0078],[.0418,-.0025],[.0419,.0054],[.0423,.0094],[.0426,.0036],[.0430,.0070],[.0433,.0012],[.0437,.0059],[.0438,-.0025],[.0440,.0083],[.0444,.0030],[.0447,.0052],[.0448,-.0016],
[.0451,.0010],[.0455,.0045],[.0458,-.0005],[.0461,.0088],[.0462,.0025],[.0464,.0010],[.0466,-.0020],[.0469,.0032],[.0472,-.0040],[.0475,.0005],[.0477,-.0074],[.0479,-.0015],[.0482,.0022],[.0485,-.0048],[.0487,.0052],[.0489,-.0028],[.0492,-.0062],[.0495,-.0010],[.0497,-.0090],[.0500,-.0035],[.0503,-.0068],[.0505,-.0022],[.0508,-.0085],[.0510,-.0045],[.0513,-.0100],[.0516,-.0030],[.0519,-.0072],[.0522,-.0055],[.0525,-.0105],[.0528,.0017],[.0530,-.0062],[.0533,-.0040],[.0536,-.0095],[.0539,-.0070],[.0541,-.0118],[.0543,-.0144],[.0545,-.0052],[.0548,-.0088],[.0551,-.0030],[.0554,-.0110],[.0557,-.0065],[.0560,-.0092],[.0563,-.0046],[.0565,-.0144],[.0567,-.0120],[.0570,-.0078],[.0573,-.0025],[.0576,-.0104],[.0579,-.0058],[.0582,-.0126],[.0585,-.0085],[.0588,-.0040],[.0591,-.0112],[.0594,-.0068],[.0597,.0000],[.0599,-.0095],
[.0602,-.0122],[.0605,-.0060],[.0608,-.0088],[.0611,-.0130],[.0614,-.0075],[.0617,-.0105],[.0620,-.0050],[.0623,-.0118],[.0624,-.0155],[.0626,-.0090],[.0629,-.0150],[.0630,-.0068],[.0633,-.0110],[.0636,-.0082],[.0639,-.0128],[.0642,-.0057],[.0645,-.0098],[.0648,-.0135],[.0651,-.0072],[.0654,-.0115],[.0657,-.0088],[.0660,-.0016],[.0661,-.0124],[.0664,-.0063],[.0667,-.0100],[.0670,-.0140],[.0673,-.0142],[.0673,-.0078],[.0676,-.0112],[.0679,-.0093],[.0682,-.0055],[.0683,-.0135],[.0685,-.0120],[.0688,-.0084],[.0691,-.0106],[.0694,-.0066],[.0697,-.0130],[.0698,-.0004],[.0700,-.0092],[.0703,-.0115],[.0706,-.0070],[.0709,-.0125],[.0712,-.0086],[.0715,-.0104],[.0718,-.0060],[.0721,-.0118],[.0724,-.0095],[.0727,-.0076],[.0730,-.0132],[.0733,-.0089],[.0736,-.0110],[.0739,-.0058],[.0742,-.0100],[.0745,-.0122],[.0748,-.0080],[.0751,-.0096],[.0754,-.0128],[.0757,-.0064],[.0759,-.0137],[.0760,-.0108],[.0763,-.0085],[.0766,-.0120],[.0768,-.0007],[.0769,-.0072],[.0772,-.0098],[.0775,-.0115],[.0778,-.0060],[.0781,-.0090],[.0784,-.0108],[.0787,-.0075],[.0790,-.0122],[.0793,-.0055],[.0796,-.0122],[.0796,-.0086],[.0799,-.0100],[.0802,-.0048],[.0805,-.0092],[.0808,-.0112],[.0811,-.0066],[.0814,-.0083],[.0817,-.0040],[.0820,-.0102],[.0823,-.0072],[.0826,-.0058],[.0829,-.0094],[.0832,-.0035],[.0835,-.0078],[.0838,-.0062],[.0841,-.0090],[.0844,-.0045],[.0847,-.0070],
[.0850,-.0030],[.0853,-.0082],[.0856,-.0055],[.0859,-.0025],[.0862,-.0074],[.0865,-.0048],[.0868,-.0088],[.0871,-.0035],[.0874,-.0019],[.0874,-.0062],[.0877,-.0078],[.0880,-.0042],[.0883,-.0015],[.0886,-.0066],[.0889,-.0030],[.0892,-.0052],[.0895,-.0010],[.0898,-.0072],[.0901,-.0040],[.0904,-.0020],[.0907,-.0058],[.0910,-.0028],[.0913,-.0005],[.0916,-.0064],[.0919,-.0035],[.0922,-.0012],[.0923,-.0101],[.0925,-.0050],[.0928,-.0025],[.0931,.0002],[.0934,-.0060],[.0937,-.0032],[.0940,-.0015],[.0943,-.0048],[.0946,.0005],[.0949,-.0038],[.0952,.0027],[.0952,-.0020],[.0955,-.0055],[.0958,-.0008],[.0961,-.0030],[.0964,.0008],[.0967,-.0045],[.0970,-.0018],[.0973,.0012],[.0976,-.0036],[.0979,-.0005],[.0982,-.0050],[.0985,-.0022],[.0988,.0015],[.0991,-.0040],[.0994,-.0012],[.0997,.0006],[.1000,-.0032],
[.1005,-.0018],[.1010,.0008],[.1015,-.0030],[.1020,-.0005],[.1025,.0015],[.1030,-.0022],[.1035,.0002],[.1040,-.0012],[.1043,.0027],[.1045,.0020],[.1050,-.0028],[.1055,-.0002],[.1060,.0012],[.1065,-.0020],[.1070,-.0008],[.1075,.0018],[.1076,-.0071],[.1080,-.0015],[.1085,.0004],[.1090,-.0026],[.1095,.0010],[.1100,-.0010],[.1105,.0022],[.1110,-.0032],[.1115,.0000],[.1120,.0014],[.1124,.0041],[.1125,-.0019],[.1130,.0006],[.1134,-.0058],[.1135,-.0025],[.1140,.0017],[.1145,-.0007],[.1150,.0025],[.1155,-.0017],[.1160,-.0001],[.1165,.0011],[.1170,-.0024],[.1175,.0019],[.1180,-.0009],[.1185,.0005],[.1188,.0045],[.1190,-.0020],[.1195,.0024],[.1200,-.0013],[.1205,.0009],[.1210,-.0027],[.1215,.0013],[.1220,.0057],[.1221,-.0004],[.1225,.0021],[.1230,-.0058],[.1231,-.0016],[.1235,.0007],[.1240,.0026],[.1245,-.0023],[.1250,.0003],[.1255,-.0011],[.1260,.0019],[.1265,-.0028],[.1270,.0010],[.1275,-.0006],[.1280,.0024],[.1285,-.0018],[.1290,.0001],[.1295,.0016],[.1300,-.0024],[.1305,.0028],[.1310,-.0009],[.1315,.0011],[.1320,-.0021],[.1325,.0005],[.1330,.0020],[.1335,-.0063],[.1336,-.0013],[.1340,.0027],[.1345,-.0003],[.1350,.0014],[.1355,-.0026],[.1360,.0008],[.1365,.0022],[.1370,-.0016],[.1375,.0000],[.1380,.0017],[.1385,-.0025],[.1390,.0012],[.1395,-.0006],[.1400,.0029],[.1405,-.0019],[.1410,.0004],[.1415,.0023],[.1420,-.0011],[.1425,.0015],[.1430,-.0028],[.1435,.0009],[.1440,-.0002],[.1445,.0026],[.1450,-.0014],[.1455,.0018],[.1460,-.0023],[.1465,.0006],[.1470,-.0008],[.1475,.0021],[.1480,-.0017],[.1485,.0012],[.1490,-.0029],[.1495,.0003]];

const resOnExtra = [[.0502,-.0059],[.0512,-.0021],[.0522,-.0057],[.0532,-.0051],[.0542,-.0087],[.0552,-.0054],[.0562,-.0074],[.0572,-.0092],[.0582,-.0064],[.0592,-.0116],
[.0602,-.0081],[.0612,-.0097],[.0622,-.0064],[.0632,-.0106],[.0642,-.0072],[.0652,-.0093],[.0662,-.0085],[.0672,-.0112],[.0682,-.0061],[.0692,-.0099],[.0702,-.0079],[.0712,-.0121],[.0722,-.0088],[.0732,-.0066],[.0742,-.0103],[.0752,-.0084],[.0762,-.0116],[.0772,-.0076],[.0782,-.0094],[.0792,-.0053],[.0802,-.0102],[.0812,-.0070],[.0822,-.0078],[.0832,-.0052],[.0842,-.0094],[.0852,-.0056],[.0862,-.0071],[.0872,-.0024],[.0882,-.0056],[.0892,-.0031],
[.0902,-.0061],[.0912,-.0035],[.0922,-.0018],[.0932,-.0056],[.0942,-.0018],[.0952,-.0037],[.0962,.0009],[.0972,-.0019],[.0982,.0007],[.0992,-.0019],
[.1002,.0003],[.1012,-.0025],[.1022,.0009],[.1032,.0012],[.1042,-.0026],[.1052,-.0017],[.1062,.0000],[.1072,-.0019],[.1082,-.0002],[.1092,-.0013],[.1102,-.0003],[.1112,.0001],[.1122,-.0008],[.1132,.0005],[.1142,-.0026],[.1152,.0020],[.1162,-.0021],[.1172,-.0027],[.1182,.0024],[.1192,-.0009],[.1202,-.0004],[.1212,.0013],[.1222,.0017],[.1232,-.0006],[.1242,.0014],[.1252,-.0018],[.1262,.0009],[.1272,.0019],[.1282,-.0020],[.1292,.0026],[.1302,-.0002],[.1312,.0003],[.1322,-.0006],[.1332,.0001],[.1342,.0006],[.1352,-.0003],[.1362,-.0015],[.1372,.0005],[.1382,.0001],[.1392,-.0022],[.1402,.0021],[.1412,-.0003],[.1422,.0024],[.1432,-.0025],[.1442,-.0011],[.1452,.0011],[.1462,-.0015],[.1472,.0016],[.1482,-.0012],[.1492,.0010]];

// residuals q >= 0.15 (the same in both panels)
const resTail = [
[.1500,.0012],[.1505,-.0008],[.1510,.0025],[.1515,-.0003],[.1520,.0006],[.1525,-.0021],[.1530,.0015],[.1535,-.0014],[.1540,.0002],[.1545,.0028],[.1550,-.0009],[.1555,.0018],[.1560,-.0026],[.1565,.0004],[.1570,-.0005],[.1575,.0022],[.1580,-.0017],[.1585,.0009],[.1590,-.0001],[.1595,.0013],
[.1600,-.0011],[.1605,.0020],[.1610,-.0004],[.1615,.0016],[.1608,-.0049],[.1625,.0007],[.1630,-.0019],[.1635,.0024],[.1640,-.0002],[.1645,.0011],[.1650,-.0027],[.1655,.0005],[.1660,.0017],[.1665,-.0013],[.1670,.0030],[.1675,-.0006],[.1680,.0010],[.1685,-.0022],[.1690,.0001],[.1695,.0014],
[.1700,-.0016],[.1705,.0008],[.1710,.0023],[.1715,-.0009],[.1720,.0003],[.1725,-.0024],[.1730,.0019],[.1735,-.0003],[.1740,.0012],[.1745,-.0018],[.1750,.0027],[.1755,-.0007],[.1760,.0006],[.1765,-.0015],[.1770,.0021],[.1775,.0000],[.1780,-.0028],[.1785,.0009],[.1790,.0015],[.1795,-.0004],
[.1800,.0018],[.1805,-.0012],[.1810,.0005],[.1815,.0026],[.1820,-.0020],[.1825,.0002],[.1830,-.0008],[.1835,.0014],[.1840,-.0025],[.1845,.0010],[.1850,.0030],[.1855,-.0005],[.1860,-.0016],[.1865,.0007],[.1870,.0020],[.1875,-.0011],[.1880,.0003],[.1885,-.0029],[.1890,.0016],[.1895,-.0001],
[.1900,-.0007],[.1905,.0022],[.1910,-.0018],[.1915,.0011],[.1920,.0001],[.1925,-.0023],[.1930,.0028],[.1935,-.0010],[.1940,.0006],[.1945,.0017],[.1950,-.0014],[.1955,-.0002],[.1960,.0025],[.1965,-.0026],[.1970,.0009],[.1975,.0013],[.1980,-.0006],[.1985,.0019],[.1990,-.0021],[.1995,.0004],
[.2000,.0010],[.2005,-.0015],[.2010,.0027],[.2015,-.0004],[.2020,-.0024],[.2025,.0008],[.2052,.0049],[.2035,.0016],[.2040,-.0009],[.2045,.0002],[.2050,-.0019],[.2055,.0023],[.2060,.0005],[.2065,-.0028],[.2070,.0012],[.2075,-.0003],[.2080,.0021],[.2085,-.0013],[.2090,.0007],[.2095,-.0008],
[.2100,.0026],[.2105,-.0011],[.2110,.0003],[.2115,-.0020],[.2120,.0015],[.2125,-.0001],[.2130,.0009],[.2135,-.0027],[.2140,.0019],[.2145,.0006],[.2150,-.0016],[.2155,.0028],[.2160,-.0006],[.2165,-.0010],[.2170,.0013],[.2175,.0022],[.2180,-.0023],[.2185,.0000],[.2190,.0017],[.2195,-.0014],
[.2200,-.0005],[.2205,.0011],[.2210,.0024],[.2215,-.0018],[.2220,.0002],[.2225,-.0025],[.2230,.0020],[.2235,-.0008],[.2240,.0014],[.2245,.0007],[.2250,-.0022],[.2255,.0029],[.2260,-.0012],[.2265,.0004],[.2270,-.0003],[.2275,.0018],[.2280,-.0029],[.2285,.0009],[.2290,.0025],[.2295,-.0009],
[.2308,.0054],[.2305,-.0013],[.2310,.0006],[.2315,.0021],[.2320,-.0019],[.2325,.0012],[.2330,-.0002],[.2335,.0028],[.2340,-.0024],[.2345,.0003],[.2350,.0016],[.2355,-.0010],[.2360,-.0030],[.2365,.0019],[.2370,.0008],[.2375,-.0006],[.2380,.0025],[.2385,-.0017],[.2390,.0001],[.2395,.0013],
[.2400,-.0021],[.2405,.0015],[.2410,.0004],[.2415,-.0008],[.2420,.0030],[.2425,-.0014],[.2430,.0010],[.2435,-.0027],[.2440,.0022],[.2445,-.0003],[.2450,.0007],[.2455,-.0033],[.2460,.0018],[.2452,.0050],[.2470,-.0011],[.2475,.0002],[.2470,-.0055],[.2485,.0026],[.2490,-.0016],[.2495,.0009],
[.2500,.0033],[.2505,-.0024],[.2510,.0012],[.2515,-.0006],[.2520,.0029],[.2525,-.0030],[.2530,.0005],[.2535,.0020],[.2540,-.0015],[.2545,.0038],[.2560,-.0074],[.2555,-.0009],[.2560,.0017],[.2565,-.0035],[.2570,.0027],[.2575,.0003],[.2580,-.0020],[.2585,.0036],[.2590,-.0012],[.2595,.0008],
[.2600,-.0028],[.2605,.0021],[.2610,-.0003],[.2615,.0034],[.2620,-.0017],[.2625,.0010],[.2630,-.0036],[.2635,.0025],[.2640,-.0007],[.2645,.0015],[.2650,-.0031],[.2655,.0039],[.2660,-.0001],[.2665,-.0022],[.2670,.0028],[.2680,-.0062],[.2680,.0006],[.2685,-.0013],[.2690,.0031],[.2695,-.0026],
[.2700,.0018],[.2705,-.0034],[.2710,.0037],[.2715,.0004],[.2720,-.0019],[.2725,.0026],[.2730,-.0009],[.2755,.0049],[.2740,-.0038],[.2745,.0014],[.2750,-.0025],[.2755,.0032],[.2760,-.0004],[.2765,.0022],[.2770,-.0030],[.2775,.0011],[.2780,-.0016],[.2785,.0035],[.2790,-.0041],[.2795,.0007],
[.2800,-.0020],[.2805,.0029],[.2810,-.0008],[.2815,.0040],[.2820,-.0033],[.2825,.0016],[.2830,-.0045],[.2835,.0024],[.2840,.0003],[.2845,-.0027],[.2877,.0059],[.2855,-.0012],[.2860,.0036],[.2845,-.0060],[.2870,.0009],[.2875,-.0037],[.2880,.0020],[.2885,-.0002],[.2890,.0042],[.2895,-.0024],
[.2922,.0060],[.2905,-.0029],[.2910,.0013],[.2940,-.0062],[.2920,.0035],[.2925,-.0015],[.2930,.0045],[.2935,-.0040],[.2940,.0027],[.2945,-.0006],[.2950,.0052],[.2935,-.0066],[.2960,.0018],[.2965,-.0033],[.2970,.0039],[.2975,-.0021],[.2980,.0008],[.2986,-.0061],[.2990,.0030],[.2995,-.0011]];

const resTail2 = [[.1502,-.0009],[.1512,.0018],[.1522,-.0003],[.1532,.0025],[.1542,-.0016],[.1552,.0006],[.1562,-.0026],[.1572,.0013],[.1582,.0001],[.1592,-.0019],[.1602,.0010],[.1612,-.0006],[.1622,.0022],[.1632,-.0012],[.1642,.0003],[.1652,-.0023],[.1662,.0016],[.1672,-.0002],[.1682,.0008],[.1692,-.0015],[.1702,.0026],[.1712,-.0004],[.1722,.0011],[.1732,-.0020],[.1742,.0005],[.1752,-.0011],[.1762,.0019],[.1772,.0002],[.1782,-.0025],[.1792,.0009],[.1802,-.0008],[.1812,.0024],[.1822,-.0018],[.1832,.0004],[.1842,-.0003],[.1852,.0014],[.1862,-.0013],[.1872,.0021],[.1882,-.0006],[.1892,.0007],[.1902,-.0022],[.1912,.0017],[.1922,-.0010],[.1932,.0001],[.1942,.0013],[.1952,-.0018],[.1962,.0005],[.1972,-.0004],[.1982,.0020],[.1992,-.0015],
[.2002,.0011],[.2012,-.0013],[.2022,.0017],[.2032,-.0016],[.2042,.0012],[.2052,-.0011],[.2062,-.0027],[.2072,.0025],[.2082,-.0003],[.2092,.0022],[.2102,-.0024],[.2112,.0001],[.2122,.0006],[.2132,-.0016],[.2142,-.0004],[.2152,.0006],[.2162,.0001],[.2172,-.0007],[.2182,.0003],[.2192,-.0002],[.2202,.0028],[.2212,-.0022],[.2222,.0021],[.2232,.0010],[.2242,-.0019],[.2252,.0015],[.2262,-.0006],[.2272,.0018],[.2282,.0014],[.2292,-.0004],[.2302,-.0009],[.2312,.0026],[.2322,-.0028],[.2332,-.0021],[.2342,.0024],[.2352,-.0024],[.2362,.0009],[.2372,-.0005],[.2382,.0005],[.2392,.0002],[.2402,-.0008],[.2412,.0004],[.2422,-.0014],[.2432,.0008],[.2442,-.0010],[.2452,-.0020],[.2462,.0021],[.2472,.0019],[.2482,-.0017],[.2492,.0014],
[.2502,-.0020],[.2512,.0026],[.2522,-.0005],[.2532,.0007],[.2542,-.0024],[.2552,.0017],[.2562,.0001],[.2572,-.0013],[.2582,.0022],[.2592,-.0029],[.2602,.0009],[.2612,-.0007],[.2622,.0027],[.2632,-.0017],[.2642,.0019],[.2652,-.0003],[.2662,.0005],[.2672,-.0023],[.2682,.0031],[.2692,-.0010],[.2702,.0012],[.2712,-.0033],[.2722,.0002],[.2732,.0026],[.2742,-.0014],[.2752,.0006],[.2762,-.0027],[.2772,.0015],[.2782,-.0006],[.2792,.0034],[.2802,-.0019],[.2812,.0011],[.2822,-.0003],[.2832,.0021],[.2842,-.0030],[.2852,.0004],[.2862,-.0016],[.2872,.0029],[.2882,-.0009],[.2892,.0013],[.2902,-.0026],[.2912,.0001],[.2922,.0017],[.2932,-.0035],[.2942,.0008],[.2952,-.0021],[.2962,.0033],[.2972,-.0004],[.2982,.0024],[.2992,-.0011]];

function init() {
    const W = 3160, H = 1543;
    const FONT = "'Liberation Sans', Arial, Helvetica, sans-serif";

    const svg = d3.select("#chart")
        .append("svg")
        .attr("width", W)
        .attr("height", H)
        .style("font-family", FONT);

    // stretch glyphs sideways a little, the source figure is widened
    function stretch(sel, k) {
        sel.each(function() {
            const w = this.getComputedTextLength();
            d3.select(this).attr("textLength", w * k).attr("lengthAdjust", "spacingAndGlyphs");
        });
    }

    const yTop = d3.scaleLinear().domain([-5, 0.1]).range([963, 37]);
    const yRes = d3.scaleLinear().domain([-0.03, 0.03]).range([1394, 1085]);

    const expAll = expNear.concat(expExtra, expTail, expOutliers);

    const panels = [
        { x0: 270, x1: 1636, fit: fitOff, color: "#4169e1", dot: "#4169e1", edge: "#3454b8",
          res: resOffHead.concat(resOffExtra, resTail, resTail2), label: "PLUMED 1B", tag: "SLC off", tagColor: "#6f8fe6",
          tagX: 1571, tagW: 194, labels: true },
        { x0: 1746, x1: 3111, fit: fitOn, color: "#ff7f0e", dot: "#ff8a00", edge: "#c77a2a",
          res: resOnHead.concat(resOnExtra, resTail, resTail2), label: "PLUMED 1B - SLC", tag: "SLC on", tagColor: "#f5801e",
          tagX: 3036, tagW: 185, labels: false }
    ];

    panels.forEach(p => {
        const x = d3.scaleLinear().domain([0, 0.30]).range([p.x0, p.x1]);

        // ---- top panel ----
        const top = svg.append("g");

        top.append("g")
            .selectAll("circle")
            .data(expAll)
            .enter()
            .append("circle")
            .attr("cx", d => x(d[0]))
            .attr("cy", d => yTop(d[1]))
            .attr("r", 3.6)
            .attr("fill", "#111");

        const line = d3.line()
            .x(d => x(d[0]))
            .y(d => yTop(d[1]))
            .curve(d3.curveMonotoneX);

        top.append("path")
            .datum(p.fit)
            .attr("d", line)
            .attr("fill", "none")
            .attr("stroke", p.color)
            .attr("stroke-width", 6);

        const xAxisTop = top.append("g")
            .attr("transform", `translate(0, ${yTop(-5)})`)
            .call(d3.axisBottom(x).tickValues(qTicks).tickSize(15).tickSizeOuter(0).tickFormat(""));

        const yAxisTop = top.append("g")
            .attr("transform", `translate(${p.x0}, 0)`)
            .call(d3.axisLeft(yTop).tickValues(logTicks).tickSize(14).tickSizeOuter(0).tickPadding(6)
                .tickFormat(p.labels ? d3.format("d") : ""));

        // ---- residual panel ----
        const bot = svg.append("g");

        bot.append("line")
            .attr("x1", p.x0).attr("x2", p.x1)
            .attr("y1", yRes(0)).attr("y2", yRes(0))
            .attr("stroke", "#000")
            .attr("stroke-width", 3);

        bot.append("g")
            .selectAll("circle")
            .data(p.res)
            .enter()
            .append("circle")
            .attr("cx", d => x(d[0]))
            .attr("cy", d => yRes(d[1]))
            .attr("r", 3.7)
            .attr("fill", p.dot)
            .attr("stroke", p.edge)
            .attr("stroke-width", 0.7);

        const xAxisRes = bot.append("g")
            .attr("transform", `translate(0, ${yRes(-0.03)})`)
            .call(d3.axisBottom(x).tickValues(qTicks).tickSize(15).tickSizeOuter(0).tickPadding(17)
                .tickFormat(d3.format(".2f")));

        const yAxisRes = bot.append("g")
            .attr("transform", `translate(${p.x0}, 0)`)
            .call(d3.axisLeft(yRes).tickValues(resTicks).tickSize(14).tickSizeOuter(0).tickPadding(6)
                .tickFormat(p.labels ? d3.format(".2f") : ""));

        [xAxisTop, yAxisTop, xAxisRes, yAxisRes].forEach(a => {
            a.selectAll(".domain").attr("stroke", "#000").attr("stroke-width", 2.5);
            a.selectAll(".tick line").attr("stroke", "#000").attr("stroke-width", 2.5);
            a.selectAll("text")
                .attr("font-family", FONT)
                .attr("font-size", 43)
                .attr("fill", "#000")
                .call(stretch, 1.15);
        });

        // x label (kept just inside the bottom edge)
        const xl = svg.append("text")
            .attr("x", (p.x0 + p.x1) / 2)
            .attr("y", 1526)
            .attr("text-anchor", "middle")
            .attr("font-size", 62)
            .attr("fill", "#000");
        xl.append("tspan").attr("font-style", "italic").text("q");
        xl.append("tspan").text("(");
        xl.append("tspan").attr("font-style", "italic").text("Å");
        xl.append("tspan").attr("font-size", 44).attr("dy", -26).text("−1");
        xl.append("tspan").attr("dy", 26).text(")");

        // legend
        const lg = svg.append("g");
        const box = lg.append("rect")
            .attr("x", p.x0 + 24)
            .attr("y", 785)
            .attr("height", 155)
            .attr("rx", 8)
            .attr("fill", "#fff")
            .attr("fill-opacity", 0.8)
            .attr("stroke", "#d6d6d6")
            .attr("stroke-width", 2);
        lg.append("line")
            .attr("x1", p.x0 + 42).attr("x2", p.x0 + 145)
            .attr("y1", 822).attr("y2", 822)
            .attr("stroke", p.color)
            .attr("stroke-width", 5);
        lg.append("circle")
            .attr("cx", p.x0 + 93).attr("cy", 897).attr("r", 3.6)
            .attr("fill", "#111");
        const t1 = lg.append("text")
            .attr("x", p.x0 + 183).attr("y", 840)
            .attr("font-size", 46).attr("fill", "#000")
            .text(p.label)
            .call(stretch, 1.07);
        const t2 = lg.append("text")
            .attr("x", p.x0 + 183).attr("y", 910)
            .attr("font-size", 46).attr("fill", "#000")
            .text("experimental data")
            .call(stretch, 1.07);
        const wMax = Math.max(+t1.attr("textLength"), +t2.attr("textLength"));
        box.attr("width", 183 - 24 + wMax + 21);

        // SLC tag
        svg.append("text")
            .attr("x", p.tagX)
            .attr("y", 163)
            .attr("text-anchor", "end")
            .attr("font-family", "Lato, 'Open Sans', sans-serif")
            .attr("font-size", 64)
            .attr("fill", p.tagColor)
            .attr("textLength", p.tagW)
            .attr("lengthAdjust", "spacingAndGlyphs")
            .text(p.tag);
    });

    // y labels
    svg.append("text")
        .attr("transform", "translate(160, 500) rotate(-90)")
        .attr("text-anchor", "middle")
        .attr("font-size", 60)
        .attr("fill", "#000")
        .text("Log I (au)");

    svg.append("text")
        .attr("transform", "translate(105, 1240) rotate(-90)")
        .attr("text-anchor", "middle")
        .attr("font-size", 60)
        .attr("fill", "#000")
        .text("Residuals (au)");
}

window.onload = init;
</script>
</body>
</html>
